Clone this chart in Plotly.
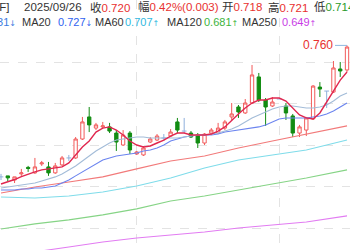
import plotly.graph_objects as go

W, H = 350, 250

# ---------------- data ----------------
idx = list(range(52))
opens = [0.6808, 0.6814, 0.6789, 0.6826, 0.6865, 0.6832, 0.6886, 0.6868, 0.6832, 0.6880,
         0.6922, 0.6922, 0.7036, 0.7169, 0.7102, 0.7109, 0.7109, 0.7072, 0.7000, 0.7072,
         0.6946, 0.6940, 0.7018, 0.7030, 0.7042, 0.7054, 0.7139, 0.7084, 0.7072, 0.7060,
         0.7012, 0.7072, 0.7072, 0.7102, 0.7169, 0.7229, 0.7193, 0.7253, 0.7410, 0.7271,
         0.7235, 0.7277, 0.7235, 0.7175, 0.7072, 0.7090, 0.7157, 0.7349, 0.7325, 0.7319,
         0.7458, 0.7452]
highs = [0.6826, 0.6814, 0.6808, 0.6856, 0.6874, 0.6922, 0.6904, 0.6898, 0.6892, 0.6934,
         0.6940, 0.7048, 0.7169, 0.7229, 0.7133, 0.7139, 0.7133, 0.7090, 0.7090, 0.7084,
         0.6964, 0.6994, 0.7048, 0.7066, 0.7066, 0.7096, 0.7163, 0.7163, 0.7084, 0.7072,
         0.7072, 0.7102, 0.7133, 0.7151, 0.7253, 0.7241, 0.7277, 0.7482, 0.7434, 0.7283,
         0.7289, 0.7277, 0.7253, 0.7187, 0.7121, 0.7169, 0.7361, 0.7379, 0.7325, 0.7506,
         0.7500, 0.7600]
lows = [0.6789, 0.6783, 0.6771, 0.6814, 0.6838, 0.6826, 0.6874, 0.6814, 0.6826, 0.6874,
        0.6904, 0.6916, 0.7030, 0.7078, 0.7090, 0.7102, 0.7072, 0.6964, 0.6994, 0.6946,
        0.6940, 0.6934, 0.7012, 0.7024, 0.7024, 0.7048, 0.7072, 0.7072, 0.7042, 0.6982,
        0.7000, 0.7060, 0.7066, 0.7090, 0.7151, 0.7163, 0.7187, 0.7247, 0.7259, 0.7115,
        0.7229, 0.7277, 0.7151, 0.7048, 0.7048, 0.7054, 0.7151, 0.7289, 0.7223, 0.7313,
        0.7410, 0.7440]
closes = [0.6808, 0.6802, 0.6808, 0.6832, 0.6859, 0.6868, 0.6892, 0.6832, 0.6874, 0.6922,
          0.6922, 0.7036, 0.7139, 0.7121, 0.7121, 0.7115, 0.7084, 0.7018, 0.7060, 0.6970,
          0.6958, 0.6982, 0.7036, 0.7054, 0.7042, 0.7078, 0.7090, 0.7084, 0.7048, 0.7012,
          0.7066, 0.7090, 0.7102, 0.7139, 0.7187, 0.7199, 0.7253, 0.7422, 0.7271, 0.7229,
          0.7259, 0.7277, 0.7193, 0.7072, 0.7109, 0.7163, 0.7355, 0.7337, 0.7325, 0.7464,
          0.7446, 0.7590]

ma5 = [0.6765, 0.6777, 0.6792, 0.6810, 0.6826, 0.6838, 0.6850, 0.6856, 0.6862, 0.6868,
       0.6892, 0.6940, 0.6988, 0.7024, 0.7078, 0.7102, 0.7109, 0.7090, 0.7060, 0.7024,
       0.7000, 0.6988, 0.6994, 0.7012, 0.7030, 0.7054, 0.7072, 0.7072, 0.7060, 0.7060,
       0.7060, 0.7066, 0.7084, 0.7109, 0.7145, 0.7187, 0.7223, 0.7253, 0.7271, 0.7271,
       0.7283, 0.7283, 0.7265, 0.7223, 0.7181, 0.7163, 0.7157, 0.7193, 0.7259, 0.7319,
       0.7391, 0.7440]
ma10 = [0.6741, 0.6747, 0.6753, 0.6759, 0.6765, 0.6771, 0.6783, 0.6795, 0.6808, 0.6826,
        0.6850, 0.6874, 0.6904, 0.6934, 0.6964, 0.6988, 0.7012, 0.7030, 0.7036, 0.7042,
        0.7048, 0.7048, 0.7042, 0.7042, 0.7042, 0.7042, 0.7042, 0.7048, 0.7054, 0.7060,
        0.7060, 0.7066, 0.7072, 0.7084, 0.7096, 0.7115, 0.7139, 0.7163, 0.7181, 0.7199,
        0.7217, 0.7229, 0.7235, 0.7235, 0.7229, 0.7223, 0.7223, 0.7229, 0.7241, 0.7265,
        0.7295, 0.7313]
ma20 = [0.6729, 0.6729, 0.6729, 0.6735, 0.6735, 0.6741, 0.6741, 0.6747, 0.6753, 0.6771,
        0.6789, 0.6814, 0.6838, 0.6862, 0.6886, 0.6910, 0.6922, 0.6934, 0.6940, 0.6946,
        0.6952, 0.6964, 0.6970, 0.6982, 0.7000, 0.7024, 0.7036, 0.7048, 0.7054, 0.7060,
        0.7060, 0.7060, 0.7066, 0.7078, 0.7084, 0.7090, 0.7096, 0.7102, 0.7109, 0.7121,
        0.7139, 0.7157, 0.7163, 0.7163, 0.7163, 0.7163, 0.7169, 0.7175, 0.7187, 0.7205,
        0.7229, 0.7253]
long_idx = [0, 5, 10, 15, 20, 25, 30, 35, 40, 45, 51]
ma60 = [0.6711, 0.6747, 0.6777, 0.6808, 0.6856, 0.6904, 0.6934, 0.6982, 0.7024, 0.7066, 0.7115]
ma120 = [0.6687, 0.6681, 0.6693, 0.6717, 0.6753, 0.6801, 0.6862, 0.6910, 0.6940, 0.6970, 0.7030]
ma250 = [0.6494, 0.6525, 0.6549, 0.6579, 0.6615, 0.6663, 0.6693, 0.6729, 0.6765, 0.6801, 0.6850]
ma500 = [0.6332, 0.6356, 0.6386, 0.6416, 0.6440, 0.6458, 0.6476, 0.6500, 0.6518, 0.6536, 0.6573]

grid_y = [0.65, 0.675, 0.70, 0.725, 0.75]
grid_x = [20, 41]
y_range = [0.63675, 0.78735]
x_range = [-0.147, 51.44]
high_label = "0.760"

# ---------------- colours ----------------
UP = "#f25a5a"
DOWN = "#128c12"
FLAT = "#8fb0dc"
RED_T = "#e8312f"

fig = go.Figure()

for xs, ys, col in [
    (long_idx, ma500, "#e27cf2"),
    (long_idx, ma250, "#86d486"),
    (long_idx, ma120, "#7fdcea"),
    (long_idx, ma60, "#f27a7a"),
    (idx, ma20, "#6b84ef"),
    (idx, ma10, "#a3bcd8"),
]:
    fig.add_trace(go.Scatter(x=xs, y=ys, mode="lines", line=dict(color=col, width=1.1),
                             hoverinfo="skip", showlegend=False))

flat = [i for i in idx if opens[i] == closes[i]]
moving = [i for i in idx if opens[i] != closes[i]]

fig.add_trace(go.Candlestick(
    x=moving, open=[opens[i] for i in moving], high=[highs[i] for i in moving],
    low=[lows[i] for i in moving], close=[closes[i] for i in moving],
    increasing=dict(line=dict(color=UP, width=1), fillcolor="white"),
    decreasing=dict(line=dict(color=DOWN, width=1), fillcolor=DOWN),
    whiskerwidth=0, showlegend=False, hoverinfo="skip"))

fx, fy = [], []
for i in flat:
    fx += [i, i, None, i - 0.35, i + 0.35, None]
    fy += [highs[i], lows[i], None, opens[i], opens[i], None]
fig.add_trace(go.Scatter(x=fx, y=fy, mode="lines", line=dict(color=FLAT, width=1),
                         hoverinfo="skip", showlegend=False))

fig.add_trace(go.Scatter(x=idx, y=ma5, mode="lines", line=dict(color="#e0274f", width=1.4),
                         hoverinfo="skip", showlegend=False))

fig.add_annotation(x=idx[-1], y=highs[-1], text=high_label, showarrow=True, arrowhead=0,
                   arrowcolor="#8fb8e0", arrowwidth=1, ax=-12, ay=0, xanchor="right",
                   font=dict(size=12, color=RED_T, family="Liberation Sans"))

FONT = "Liberation Sans, Noto Sans CJK SC"
def txt(px, py, s, anchor="left", color="#333333", size=11.5):
    fig.add_annotation(xref="paper", yref="paper", x=px / W, y=1 - py / H, text=s,
                       showarrow=False, xanchor=anchor, yanchor="middle",
                       font=dict(size=size, color=color, family=FONT))

def col(s, c):
    return f"<span style='color:{c}'>{s}</span>"

def arrow(a):
    return f"<span style='font-size:8px;font-family:DejaVu Sans'>{a}</span>"

# header row 1
txt(11, 7, "[F]", anchor="right")
txt(22, 7, "2025/09/26")
txt(88, 7, "收" + col("0.720", RED_T))
txt(136, 7, "幅" + col("0.42%(0.003)", RED_T))
txt(220, 7, "开" + col("0.718", RED_T))
txt(266, 7, "高" + col("0.721", RED_T))
txt(312, 7, "低" + col("0.714", "#2a9a2a"))
# header row 2
txt(18, 22, "MA10 " + col("0.731" + arrow("↓"), "#3a7be0"), anchor="right", size=11)
txt(20, 22, "MA20", size=11)
txt(56, 22, col("0.727" + arrow("↓"), "#2f62f0"), size=11)
txt(93, 22, "MA60", size=11)
txt(123, 22, col("0.707" + arrow("↑"), "#30b8e0"), size=11)
txt(165, 22, "MA120", size=11)
txt(202, 22, col("0.681" + arrow("↑"), "#3cb43c"), size=11)
txt(240, 22, "MA250", size=11)
txt(280, 22, col("0.649" + arrow("↑"), "#c83ce6"), size=11)

fig.update_layout(
    width=W, height=H, margin=dict(l=0, r=0, t=0, b=0),
    paper_bgcolor="white", plot_bgcolor="white", showlegend=False,
    xaxis=dict(range=x_range, tickvals=grid_x, showticklabels=False, showgrid=True,
               gridcolor="#e3e3e3", griddash="dash", gridwidth=1, zeroline=False,
               rangeslider=dict(visible=False), fixedrange=True),
    yaxis=dict(range=y_range, tickvals=grid_y, showticklabels=False, showgrid=True,
               gridcolor="#e3e3e3", griddash="dash", gridwidth=1, zeroline=False,
               fixedrange=True),
)

fig.write_html("out.html", config={"displayModeBar": False})
